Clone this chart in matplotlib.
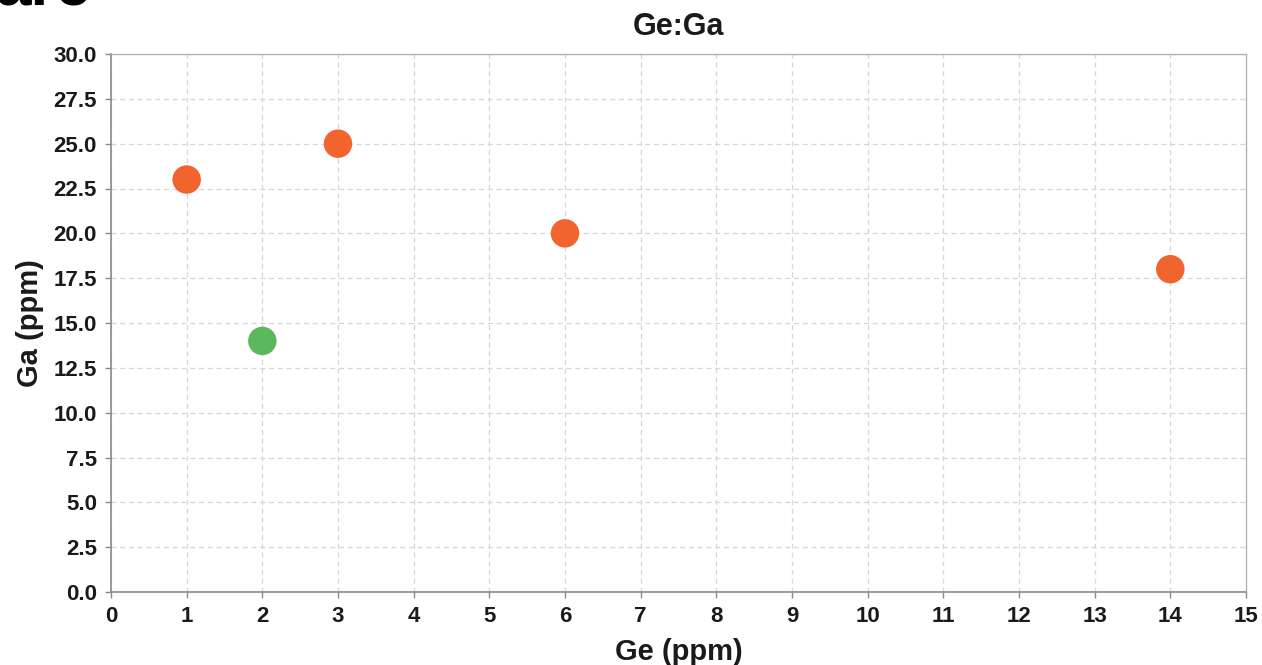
import matplotlib
matplotlib.use("Agg")
import matplotlib.pyplot as plt
from matplotlib.ticker import MultipleLocator, FormatStrFormatter

plt.rcParams['font.family'] = ['Liberation Sans', 'DejaVu Sans']

# Ge vs Ga concentrations (ppm)
ge_orange = [1, 3, 6, 14]
ga_orange = [23, 25, 20, 18]
ge_green = [2]
ga_green = [14]

title = "Ge:Ga"
xlabel = "Ge (ppm)"
ylabel = "Ga (ppm)"

fig = plt.figure(figsize=(12.62, 6.65), dpi=100)
ax = fig.add_axes([111 / 1262, 1 - 592 / 665, (1246 - 111) / 1262, (592 - 54) / 665])

ax.set_xlim(0, 15)
ax.set_ylim(0, 30)
ax.xaxis.set_major_locator(MultipleLocator(1))
ax.yaxis.set_major_locator(MultipleLocator(2.5))
ax.yaxis.set_major_formatter(FormatStrFormatter('%.1f'))

ax.grid(True, color='#d6d6d6', linestyle=(0, (4, 3)), linewidth=0.9)
ax.set_axisbelow(True)

ax.scatter(ge_orange, ga_orange, s=420, color='#f2642e', edgecolors='none', zorder=3, clip_on=False)
ax.scatter(ge_green, ga_green, s=420, color='#5cb85c', edgecolors='none', zorder=3, clip_on=False)

for side in ('left', 'bottom'):
    ax.spines[side].set_color('#8a8a8a')
    ax.spines[side].set_linewidth(1.2)
for side in ('top', 'right'):
    ax.spines[side].set_color('#b4b4b4')
    ax.spines[side].set_linewidth(1.0)

ax.tick_params(axis='both', direction='out', length=4, width=1, color='#8a8a8a',
               labelsize=16)
ax.tick_params(axis='x', pad=6)
ax.tick_params(axis='y', pad=6)
for lab in ax.get_xticklabels() + ax.get_yticklabels():
    lab.set_fontweight('bold')
    lab.set_color('#1a1a1a')

ax.set_title(title, fontsize=22, fontweight='bold', color='#1a1a1a', pad=14)
ax.set_xlabel(xlabel, fontsize=21, fontweight='bold', color='#1a1a1a', labelpad=8)
ax.set_ylabel(ylabel, fontsize=21, fontweight='bold', color='#1a1a1a', labelpad=7)

# heading text running off the top edge
fig.text(-0.004, 1 - 5 / 665, "are", fontsize=46, fontweight='bold', color='black',
         ha='left', va='baseline')

fig.savefig("out.png", dpi=100)
